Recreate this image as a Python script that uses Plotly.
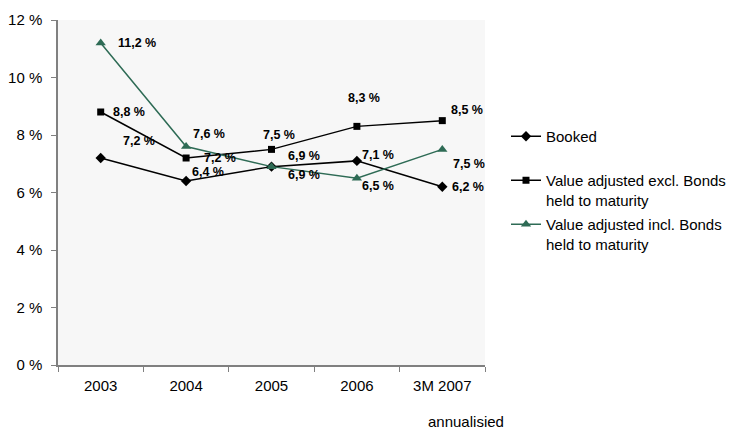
import plotly.graph_objects as go

categories = ["2003", "2004", "2005", "2006", "3M 2007"]
booked = [7.2, 6.4, 6.9, 7.1, 6.2]
excl = [8.8, 7.2, 7.5, 8.3, 8.5]
incl = [11.2, 7.6, 6.9, 6.5, 7.5]
names = ["Booked<br>\u00a0", "Value adjusted excl. Bonds<br>held to maturity",
         "Value adjusted incl. Bonds<br>held to maturity"]
y_ticks = [0, 2, 4, 6, 8, 10, 12]
note = "annualisied"

GREEN = "#2E6B55"
FONT = "Liberation Sans, Arial, sans-serif"

series = [
    (booked, names[0], "black", "diamond", 8),
    (excl, names[1], "black", "square", 7),
    (incl, names[2], GREEN, "triangle-up", 9),
]

# label offsets (pixels): left edge shift x, vertical shift y
offsets = [
    [(20, 17), (4, 9), (14, 11), (3, 6), (8, 0)],
    [(10, 0), (16, 0), (-11, 14), (-11, 28), (7, 11)],
    [(15, 0), (5, 13), (14, -8), (3, -8), (9, -15)],
]

PL, PR, PT, PB = 58, 485, 20, 365

fig = go.Figure()
for i, (vals, name, col, sym, sz) in enumerate(series):
    fig.add_trace(go.Scatter(
        x=categories, y=vals, name=name, mode="lines+markers",
        line=dict(color=col, width=1.5),
        marker=dict(symbol=sym, size=sz, color=col),
        legendgroup=f"g{i}",
    ))
    for j, v in enumerate(vals):
        dx, dy = offsets[i][j]
        fig.add_annotation(
            x=j, y=v, text=f"{v:.1f} %".replace(".", ","),
            showarrow=False, xanchor="left", yanchor="middle",
            xshift=dx, yshift=dy,
            font=dict(family=FONT, size=12.5, color="black", weight="bold"),
        )

fig.add_annotation(
    xref="paper", yref="paper", x=(466 - PL) / (PR - PL),
    y=-(421 - PB) / (PB - PT),
    text=note, showarrow=False, xanchor="center", yanchor="middle",
    font=dict(family=FONT, size=15, color="black"),
)

fig.update_layout(
    width=734, height=431,
    margin=dict(l=PL, r=734 - PR, t=PT, b=431 - PB, autoexpand=False),
    paper_bgcolor="white", plot_bgcolor="#F7F7F7",
    font=dict(family=FONT, size=15, color="black"),
    showlegend=True,
    legend=dict(x=(506 - PL) / (PR - PL), y=(PB - 120) / (PB - PT),
                xanchor="left", yanchor="top", valign="top",
                bgcolor="rgba(0,0,0,0)", tracegroupgap=2,
                font=dict(family=FONT, size=15, color="black"),
                itemwidth=30),
    xaxis=dict(type="category", showgrid=False, showline=True,
               linecolor="#808080", linewidth=1.5, ticks="outside",
               tickson="boundaries", ticklen=5, tickcolor="#808080",
               range=[-0.5, 4.5], zeroline=False, ticklabelstandoff=6),
    yaxis=dict(range=[0, 12], tickvals=y_ticks,
               ticktext=[f"{t} %" for t in y_ticks], showgrid=False,
               showline=True, linecolor="#808080", linewidth=1.5,
               ticks="outside", ticklen=5, tickcolor="#808080",
               zeroline=False, ticklabelstandoff=6),
)

fig.write_html("out.html")
